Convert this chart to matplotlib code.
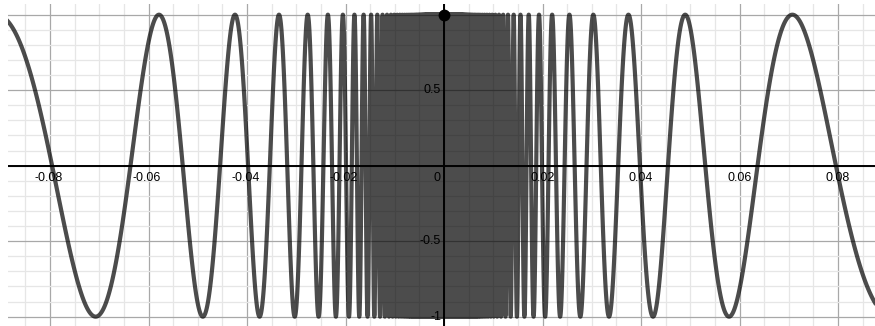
import numpy as np
import matplotlib
matplotlib.use("Agg")
import matplotlib.pyplot as plt
from matplotlib.transforms import offset_copy

plt.rcParams['font.family'] = ['Liberation Sans', 'DejaVu Sans']
plt.rcParams['agg.path.chunksize'] = 0
plt.rcParams['path.simplify'] = False

# ---- data: the graphed function y = sin(1/x) and the marked point ----
x_range = [-0.08853, 0.08751]
y_range = [-1.062, 1.071]
n_samples = 400000
point_x = [0.0]
point_y = [1.0]

x_tick_values = [-0.08, -0.06, -0.04, -0.02, 0.02, 0.04, 0.06, 0.08]
x_tick_labels = ["-0.08", "-0.06", "-0.04", "-0.02", "0.02", "0.04", "0.06", "0.08"]
y_tick_values = [0.5, -0.5, -1.0]
y_tick_labels = ["0.5", "-0.5", "-1"]

x = np.linspace(x_range[0], x_range[1], n_samples)
x = x[x != 0]
y = np.sin(1.0 / x)

fig = plt.figure(figsize=(8.75, 3.26), dpi=100)
W, H = 875, 326
ax = fig.add_axes([8 / W, 0, (W - 8) / W, (H - 4) / H])
ax.set_xlim(*x_range)
ax.set_ylim(*y_range)
for s in ax.spines.values():
    s.set_visible(False)
ax.set_xticks([])
ax.set_yticks([])

# grid
for gx in np.arange(-0.085, 0.0876, 0.005):
    major = abs(round(gx / 0.02) * 0.02 - gx) < 1e-9
    ax.axvline(gx, color='#a8a8a8' if major else '#e6e6e6', lw=0.9, zorder=1)
for gy in np.arange(-1.0, 1.06, 0.1):
    major = abs(round(gy / 0.5) * 0.5 - gy) < 1e-9
    ax.axhline(gy, color='#a8a8a8' if major else '#e6e6e6', lw=0.9, zorder=1)

# axes
ax.axhline(0, color='black', lw=1.4, zorder=2)
ax.axvline(0, color='black', lw=1.4, zorder=2)

# curve
ax.plot(x, y, color='black', alpha=0.7, lw=3.0, solid_joinstyle='round', zorder=3)
ax.plot(point_x, point_y, 'o', color='black', ms=7.5, zorder=5)

# labels
for v, t in zip(x_tick_values, x_tick_labels):
    dx = -1.5 if v < 0 else 0
    tr = offset_copy(ax.transData, fig=fig, x=dx, y=-6, units='dots')
    ax.text(v, 0, t, transform=tr, ha='center', va='top', fontsize=9, color='black', zorder=4)
tr0 = offset_copy(ax.transData, fig=fig, x=-4, y=-6, units='dots')
ax.text(0, 0, "0", transform=tr0, ha='right', va='top', fontsize=9, color='black', zorder=4)
for v, t in zip(y_tick_values, y_tick_labels):
    tr = offset_copy(ax.transData, fig=fig, x=-3, y=0, units='dots')
    ax.text(0, v, t, transform=tr, ha='right', va='center', fontsize=9, color='black', zorder=4)

fig.savefig("out.png", dpi=100, facecolor='white')
